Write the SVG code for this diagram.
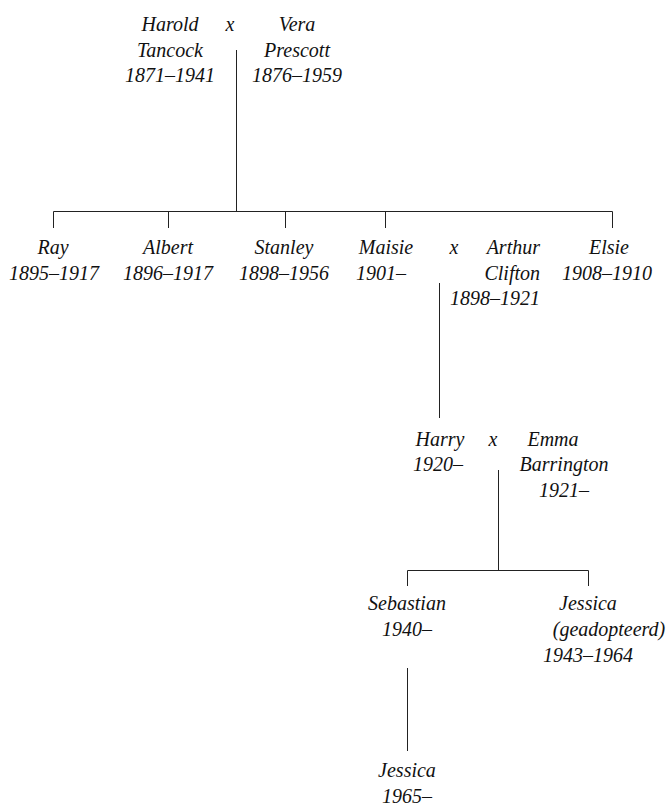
<svg xmlns="http://www.w3.org/2000/svg" width="668" height="809" viewBox="0 0 668 809">
<style>
text{font-family:'Liberation Serif','DejaVu Serif',serif;font-style:italic;font-size:20px;fill:#111;text-anchor:middle}
.r{text-anchor:end}
.c line,.c path{stroke:#222;stroke-width:1;fill:none}
</style>
<rect width="668" height="809" fill="#fff"/>
<g class="c" id="connectors">
<line x1="236.5" y1="50" x2="236.5" y2="211.5"/>
<path d="M53.5 228V211.5H612.5V228"/>
<line x1="168.5" y1="211.5" x2="168.5" y2="228"/>
<line x1="285.5" y1="211.5" x2="285.5" y2="228"/>
<line x1="385.5" y1="211.5" x2="385.5" y2="228"/>
<line x1="439.5" y1="283" x2="439.5" y2="418"/>
<line x1="498.5" y1="470" x2="498.5" y2="570.5"/>
<path d="M407.5 586V570.5H588.5V586"/>
<line x1="407.5" y1="668" x2="407.5" y2="751"/>
</g>
<g id="harold"><text x="170" y="31">Harold</text><text x="170" y="57">Tancock</text><text x="170" y="82">1871–1941</text></g>
<g id="m1"><text x="230" y="31">x</text></g>
<g id="vera"><text x="297" y="31">Vera</text><text x="297" y="57">Prescott</text><text x="297" y="82">1876–1959</text></g>
<g id="ray"><text x="53" y="254">Ray</text><text x="54" y="280">1895–1917</text></g>
<g id="albert"><text x="168" y="254">Albert</text><text x="168" y="280">1896–1917</text></g>
<g id="stanley"><text x="284" y="254">Stanley</text><text x="284" y="280">1898–1956</text></g>
<g id="maisie"><text x="386" y="254">Maisie</text><text x="381" y="280">1901–</text></g>
<g id="m2"><text x="454" y="254">x</text></g>
<g id="arthur"><text class="r" x="540" y="254">Arthur</text><text class="r" x="540" y="280">Clifton</text><text class="r" x="540" y="305">1898–1921</text></g>
<g id="elsie"><text x="609" y="254">Elsie</text><text x="607" y="280">1908–1910</text></g>
<g id="harry"><text x="440" y="446">Harry</text><text x="438" y="471">1920–</text></g>
<g id="m3"><text x="493" y="446">x</text></g>
<g id="emma"><text x="553" y="446">Emma</text><text x="564" y="471">Barrington</text><text x="564" y="497">1921–</text></g>
<g id="sebastian"><text x="407" y="610">Sebastian</text><text x="407" y="636">1940–</text></g>
<g id="jessica1"><text x="588" y="610">Jessica</text><text x="609" y="636">(geadopteerd)</text><text x="588" y="662">1943–1964</text></g>
<g id="jessica2"><text x="407" y="777">Jessica</text><text x="407" y="803">1965–</text></g>
</svg>
